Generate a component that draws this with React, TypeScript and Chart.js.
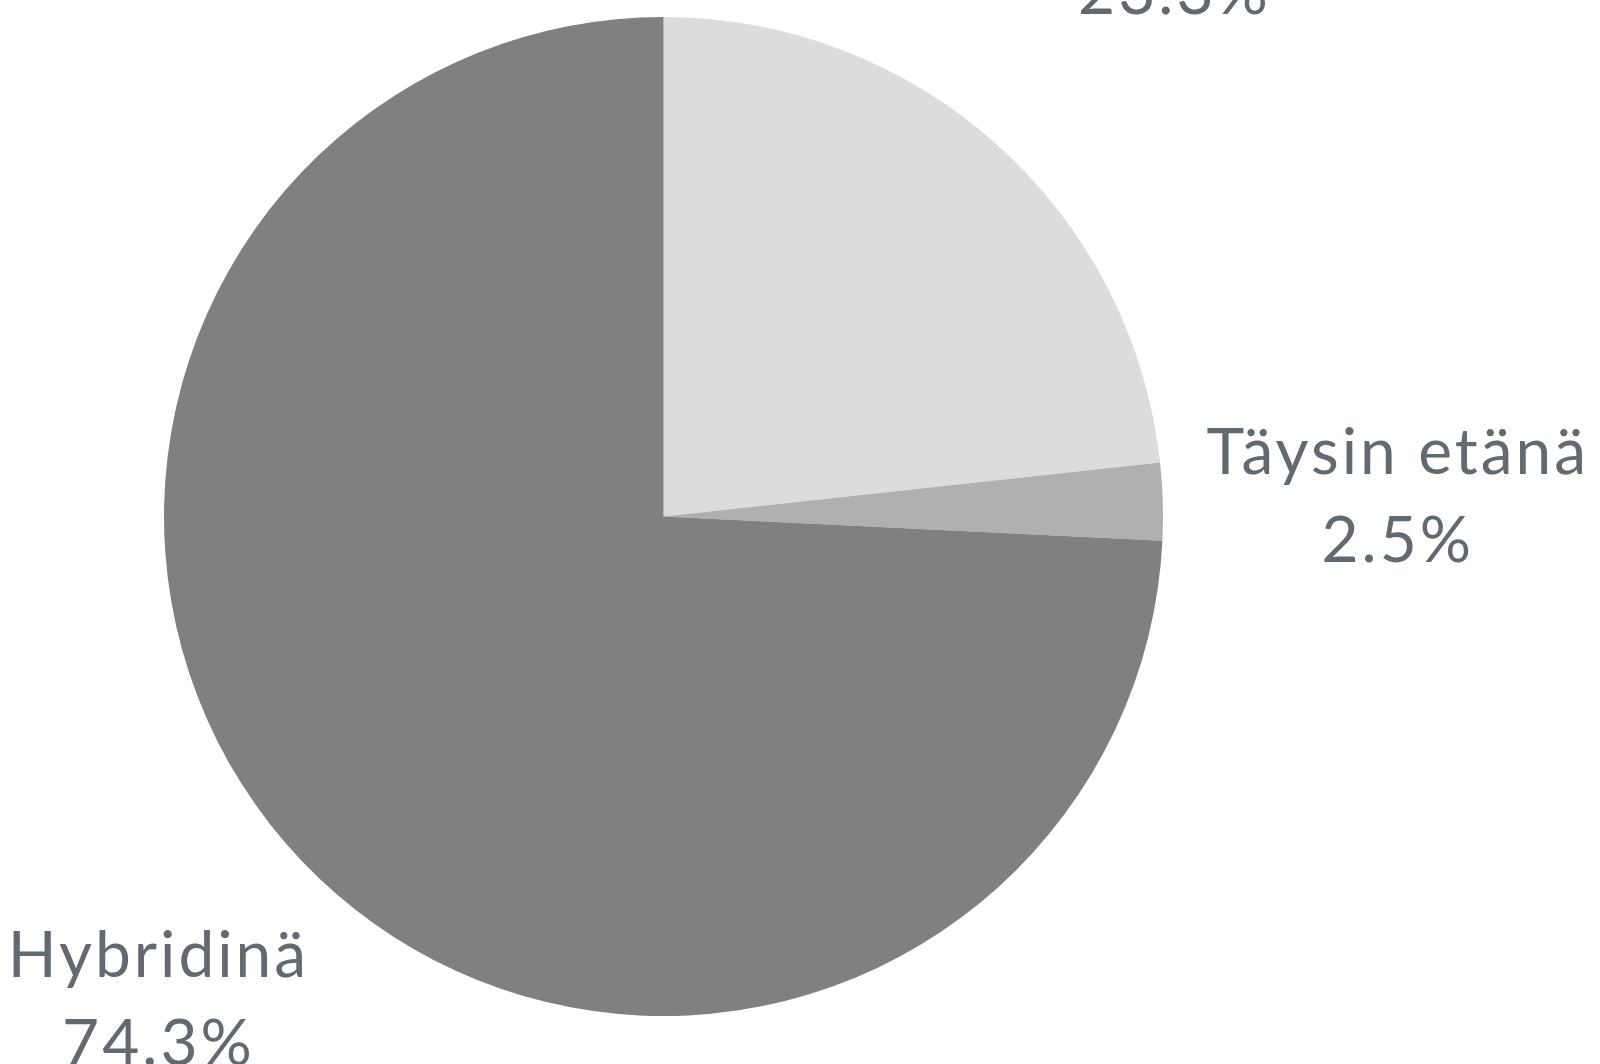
import React, { useEffect, useRef } from "react";
import { Chart, registerables } from "chart.js";

Chart.register(...registerables);

const categories = ["Täysin lähityössä", "Täysin etänä", "Hybridinä"];
const values = [23.3, 2.5, 74.3];
const valueLabels = ["23.3%", "2.5%", "74.3%"];
const sliceColors = ["#dcdcdc", "#b0b0b0", "#808080"];

const FONT_SIZE = 64;
const LINE_H = 88;
const FONT = `${FONT_SIZE}px Lato, "DejaVu Sans", sans-serif`;
const TEXT_COLOR = "#626970";
const GAP = 42;

const outsideLabels = {
  id: "outsideLabels",
  afterDraw(chart: any) {
    const ctx = chart.ctx;
    const meta = chart.getDatasetMeta(0);
    ctx.save();
    ctx.font = FONT;
    (ctx as any).letterSpacing = "3px";
    ctx.fillStyle = TEXT_COLOR;
    ctx.textAlign = "center";
    ctx.textBaseline = "alphabetic";
    meta.data.forEach((arc: any, i: number) => {
      const p = arc.getProps(["x", "y", "startAngle", "endAngle", "outerRadius"], true);
      const mid = (p.startAngle + p.endAngle) / 2;
      const dx = Math.cos(mid);
      const dy = Math.sin(mid);
      const lines = [categories[i], valueLabels[i]];
      const ms = lines.map((l) => ctx.measureText(l));
      const w = Math.max(...ms.map((m: any) => m.width));
      const ascent = ms[0].actualBoundingBoxAscent;
      const descent = ms[ms.length - 1].actualBoundingBoxDescent;
      const h = LINE_H * (lines.length - 1) + ascent + descent;
      const a = w / 2;
      const b = h / 2;
      const dist = p.outerRadius + GAP + Math.abs(a * dx) + Math.abs(b * dy);
      const cx = p.x + dx * dist;
      const cy = p.y + dy * dist;
      const top = cy - h / 2;
      lines.forEach((l, j) => {
        ctx.fillText(l, cx, top + ascent + LINE_H * j);
      });
    });
    ctx.restore();
  },
};

export default function App() {
  const ref = useRef<HTMLCanvasElement | null>(null);
  useEffect(() => {
    document.body.style.margin = "0";
    if (!ref.current) return;
    const chart = new Chart(ref.current, {
      type: "pie",
      data: {
        labels: categories,
        datasets: [
          {
            data: values,
            backgroundColor: sliceColors,
            borderWidth: 0,
          },
        ],
      },
      options: {
        animation: false,
        responsive: false,
        events: [],
        layout: { padding: { left: 164, right: 437, top: 17, bottom: 48 } },
        plugins: {
          legend: { display: false },
          tooltip: { enabled: false },
        },
      },
      plugins: [outsideLabels],
    });
    return () => chart.destroy();
  }, []);
  return (
    <div style={{ width: 1600, height: 1064, overflow: "hidden" }}>
      <canvas ref={ref} width={1600} height={1064} style={{ display: "block" }} />
    </div>
  );
}
